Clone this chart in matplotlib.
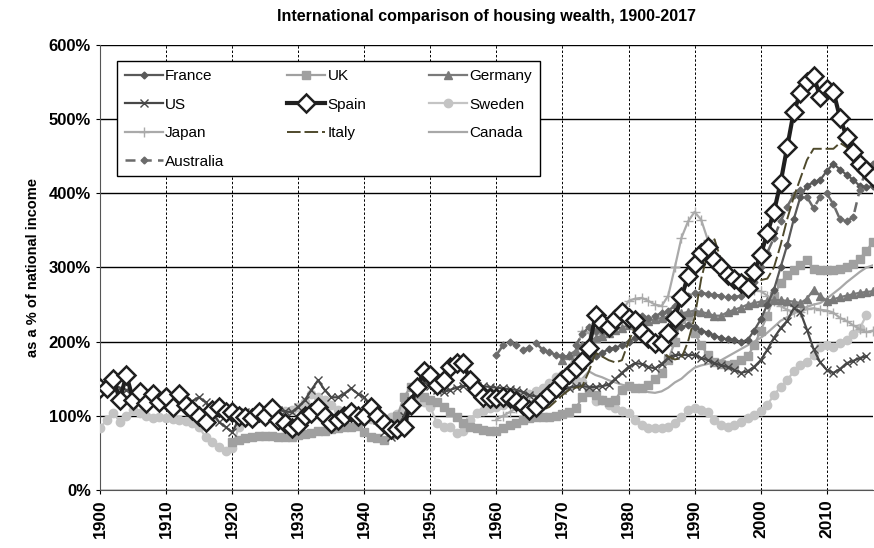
import numpy as np
import matplotlib
matplotlib.use('Agg')
import matplotlib.pyplot as plt

plt.rcParams.update({
    'font.family': ['Liberation Sans', 'DejaVu Sans'],
    'font.size': 10,
})

# ===================== DATA (housing wealth, % of national income) =====================
france_start = 1970
france = [155, 160, 165, 172, 178, 180, 185, 190, 192, 195,
          200, 205, 205, 203, 205, 208, 212, 218, 220, 222,
          220, 215, 212, 208, 205, 203, 202, 200, 202, 215,
          230, 250, 270, 300, 330, 365, 395, 410, 415, 418,
          430, 440, 432, 425, 418, 410, 408, 410]

uk_start = 1920
uk = [65, 68, 70, 72, 73, 73, 73, 72, 72, 72,
      74, 76, 77, 79, 80, 82, 84, 85, 85, 86,
      78, 72, 70, 68, 75, 100, 125, 139, 130, 125,
      122, 118, 112, 105, 98, 90, 85, 83, 81, 79,
      80, 84, 88, 91, 94, 97, 98, 98, 99, 100,
      102, 105, 110, 125, 132, 128, 122, 118, 122, 135,
      140, 138, 137, 142, 150, 158, 175, 200, 230, 235,
      212, 195, 182, 173, 170, 168, 170, 175, 180, 195,
      215, 235, 262, 279, 290, 297, 303, 310, 298, 296,
      296, 297, 298, 300, 305, 312, 322, 335]

germany_start = 1970
germany = [175, 182, 188, 195, 200, 205, 208, 212, 216, 219,
           222, 224, 226, 228, 230, 232, 234, 236, 238, 240,
           242, 240, 238, 235, 235, 240, 243, 246, 250, 252,
           254, 255, 256, 256, 255, 254, 252, 258, 270, 262,
           255, 257, 260, 262, 264, 266, 267, 268]

us_start = 1900
us = [135, 140, 140, 138, 135, 132, 130, 128, 128, 125,
      122, 120, 120, 118, 120, 125, 118, 105, 92, 85,
      78, 95, 105, 100, 105, 108, 112, 108, 106, 105,
      112, 121, 135, 148, 135, 125, 125, 130, 137, 130,
      125, 110, 95, 78, 72, 80, 100, 120, 138, 146,
      140, 135, 132, 135, 138, 140, 142, 140, 140, 139,
      138, 137, 136, 135, 132, 128, 126, 125, 126, 130,
      135, 138, 140, 140, 139, 139, 140, 142, 150, 158,
      166, 171, 170, 166, 164, 170, 178, 182, 182, 182,
      182, 178, 175, 171, 168, 166, 162, 158, 160, 166,
      175, 189, 205, 218, 228, 245, 240, 216, 190, 172,
      162, 158, 163, 171, 174, 178, 180]

spain_start = 1900
spain = [137, 138, 150, 122, 155, 122, 132, 117, 130, 118,
         125, 112, 130, 115, 108, 100, 92, 108, 112, 105,
         105, 100, 98, 97, 105, 100, 110, 95, 90, 84,
         88, 100, 104, 112, 100, 90, 95, 100, 105, 100,
         100, 112, 100, 90, 82, 82, 85, 115, 139, 160,
         155, 142, 148, 166, 171, 171, 148, 135, 125, 124,
         124, 126, 124, 120, 115, 108, 112, 122, 130, 138,
         148, 156, 165, 174, 191, 236, 225, 220, 230, 240,
         232, 229, 213, 205, 198, 198, 212, 232, 260, 288,
         305, 320, 328, 310, 300, 290, 284, 279, 272, 294,
         317, 346, 375, 414, 462, 510, 535, 550, 558, 530,
         540, 537, 502, 476, 456, 440, 431, 422]

sweden_start = 1900
sweden = [83, 95, 104, 92, 100, 108, 104, 100, 97, 98,
          97, 96, 94, 93, 90, 85, 71, 65, 58, 52,
          56, 85, 94, 98, 100, 103, 105, 106, 106, 108,
          112, 119, 130, 125, 121, 114, 108, 106, 104, 100,
          98, 96, 94, 95, 98, 102, 108, 115, 121, 118,
          112, 90, 85, 85, 77, 80, 95, 104, 106, 110,
          112, 115, 118, 120, 125, 130, 133, 138, 144, 152,
          155, 150, 148, 145, 135, 120, 121, 115, 110, 106,
          104, 94, 88, 84, 83, 84, 85, 90, 98, 108,
          110, 108, 105, 95, 87, 85, 88, 92, 97, 101,
          107, 115, 128, 139, 148, 160, 168, 172, 182, 193,
          195, 193, 198, 202, 210, 218, 236]

japan_start = 1960
japan = [95, 100, 105, 110, 115, 118, 122, 128, 135, 145,
         155, 165, 185, 215, 212, 210, 212, 215, 225, 240,
         255, 258, 259, 255, 250, 248, 262, 300, 340, 362,
         375, 364, 337, 310, 295, 285, 280, 276, 272, 270,
         268, 262, 255, 248, 243, 240, 240, 244, 245, 243,
         242, 239, 232, 228, 222, 217, 213, 215]

italy_start = 1965
italy = [100, 104, 108, 112, 120, 128, 135, 138, 140, 160,
         185, 180, 175, 172, 175, 200, 220, 225, 212, 198,
         188, 180, 176, 178, 200, 233, 285, 320, 338, 310,
         295, 292, 290, 285, 283, 283, 285, 300, 330, 365,
         395, 420, 445, 460, 460, 460, 460, 468, 462, 450,
         438, 430, 425]

canada_start = 1970
canada = [130, 135, 140, 150, 160, 155, 152, 148, 145, 142,
          140, 138, 135, 132, 131, 133, 138, 145, 150, 158,
          165, 168, 170, 172, 175, 180, 185, 190, 195, 200,
          205, 212, 220, 228, 233, 238, 243, 247, 250, 252,
          258, 265, 272, 280, 287, 294, 300, 303]

australia_start = 1960
australia = [182, 195, 200, 195, 189, 192, 198, 189, 186, 182,
             180, 180, 195, 210, 220, 215, 215, 218, 222, 230,
             235, 236, 235, 232, 235, 238, 242, 248, 255, 262,
             265, 266, 264, 263, 262, 260, 260, 262, 268, 280,
             300, 320, 340, 362, 382, 398, 405, 395, 380, 395,
             400, 385, 365, 362, 368, 405, 435, 440]

# ===================== BUILD FIGURE =====================
fig = plt.figure(figsize=(8.74, 5.48), dpi=100)
ax = fig.add_axes([0.1144, 0.1058, 0.8845, 0.8122])

def yrs(start, vals):
    return np.arange(start, start + len(vals))

# name, start, values, colour, linestyle, lw, marker, markersize, mfc
series = [
    ('France', france_start, france, '#595959', '-', 1.6, 'D', 3.5, '#595959'),
    ('UK', uk_start, uk, '#a0a0a0', '-', 1.6, 's', 5.5, '#a0a0a0'),
    ('Germany', germany_start, germany, '#7a7a7a', '-', 1.6, '^', 5.5, '#7a7a7a'),
    ('US', us_start, us, '#474747', '-', 1.6, 'x', 6, '#474747'),
    ('Spain', spain_start, spain, '#1f1f1f', '-', 3.0, 'D', 9, 'white'),
    ('Sweden', sweden_start, sweden, '#c4c4c4', '-', 1.6, 'o', 6, '#c4c4c4'),
    ('Japan', japan_start, japan, '#aaaaaa', '-', 1.6, '+', 7, '#aaaaaa'),
    ('Italy', italy_start, italy, '#4f4a2c', (0, (7, 2)), 1.4, None, 0, None),
    ('Canada', canada_start, canada, '#a8a8a8', '-', 1.6, None, 0, None),
    ('Australia', australia_start, australia, '#6b6b6b', (0, (4, 2.5)), 1.8, 'D', 3.5, '#6b6b6b'),
]

# draw order: light series first, Spain on top
draw_order = ['Canada', 'Sweden', 'UK', 'Japan', 'Germany', 'US', 'France',
              'Australia', 'Italy', 'Spain']
handles = {}
for name in draw_order:
    s = [t for t in series if t[0] == name][0]
    _, start, vals, col, ls, lw, mk, ms, mfc = s
    kw = {}
    if mk is not None:
        kw = dict(marker=mk, markersize=ms, markerfacecolor=mfc,
                  markeredgecolor=col if mfc != 'white' else '#1f1f1f',
                  markeredgewidth=1.8 if name == 'Spain' else 1.0)
    line, = ax.plot(yrs(start, vals), vals, color=col, linestyle=ls, lw=lw,
                    label=name, zorder=3 + draw_order.index(name), **kw)
    handles[name] = line

ax.set_xlim(1900, 2017)
ax.set_ylim(0, 600)
ax.set_xticks(np.arange(1900, 2011, 10))
ax.set_xticklabels([str(y) for y in range(1900, 2011, 10)], rotation=90,
                   fontsize=12.5, fontweight='bold')
ax.set_yticks(np.arange(0, 601, 100))
ax.set_yticklabels([f'{v}%' for v in range(0, 601, 100)], fontsize=12,
                   fontweight='bold')
ax.tick_params(axis='both', length=3, color='black')

ax.set_axisbelow(True)
ax.yaxis.grid(True, color='black', lw=1.0, linestyle='-')
ax.xaxis.grid(True, color='black', lw=0.7, linestyle=(0, (2.5, 2)))
ax.spines['top'].set_visible(False)
ax.spines['right'].set_visible(False)
ax.spines['left'].set_color('#555555')
ax.spines['bottom'].set_color('#555555')

ax.set_ylabel('as a % of national income', fontsize=10.5, fontweight='bold',
              labelpad=6)
ax.set_title('International comparison of housing wealth, 1900-2017',
             fontsize=11.5, fontweight='bold', pad=17)

# legend rows read France, UK, Germany / US, Spain, Sweden / ...
legend_order = ['France', 'UK', 'Germany', 'US', 'Spain', 'Sweden',
                'Japan', 'Italy', 'Canada', 'Australia']
# matplotlib fills legends column by column, so reorder
ncol = 3
rows = int(np.ceil(len(legend_order) / ncol))
col_major = []
for c in range(ncol):
    for r in range(rows):
        idx = r * ncol + c
        if idx < len(legend_order):
            col_major.append(legend_order[idx])
leg = ax.legend([handles[n] for n in col_major], col_major, ncol=ncol,
                loc='upper left', bbox_to_anchor=(0.022, 0.963),
                fontsize=11, frameon=True, fancybox=False, framealpha=1,
                edgecolor='black', handlelength=2.5, handletextpad=0.15,
                columnspacing=4.1, borderpad=0.5, labelspacing=0.95,
                borderaxespad=0)
leg.get_frame().set_linewidth(1.0)
leg.set_zorder(20)

fig.savefig('out.png', dpi=100)
plt.close(fig)
